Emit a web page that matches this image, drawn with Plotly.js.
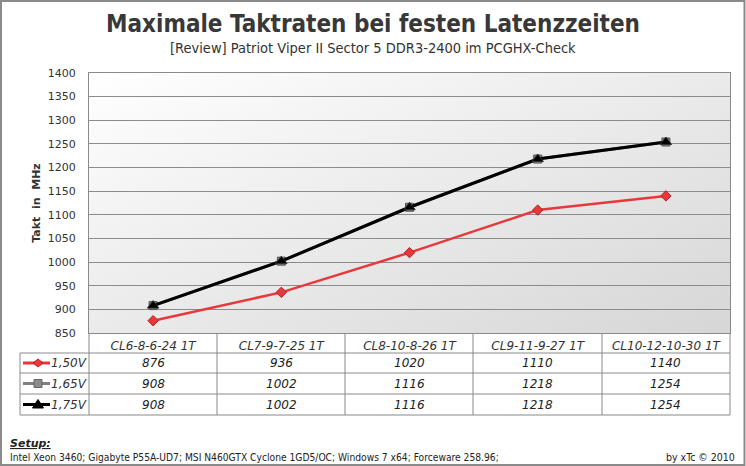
<!DOCTYPE html>
<html>
<head>
<meta charset="utf-8">
<script src="https://cdn.plot.ly/plotly-3.0.1.min.js"></script>
<style>
html,body{margin:0;padding:0;background:#fff;}
#chart{width:746px;height:466px;}
</style>
</head>
<body>
<div id="chart"></div>
<script>
// ---- data ----
const categories = ["CL6-8-6-24 1T", "CL7-9-7-25 1T", "CL8-10-8-26 1T", "CL9-11-9-27 1T", "CL10-12-10-30 1T"];
const seriesNames = ["1,50V", "1,65V", "1,75V"];
const v150 = [876, 936, 1020, 1110, 1140];
const v165 = [908, 1002, 1116, 1218, 1254];
const v175 = [908, 1002, 1116, 1218, 1254];
const yTicks = [850, 900, 950, 1000, 1050, 1100, 1150, 1200, 1250, 1300, 1350, 1400];

// ---- layout helpers (pixel -> paper) ----
const W = 746, H = 466;
const L = 89, R = 730, T = 73, B = 333;
const X = px => (px - L) / (R - L);
const Y = py => (B - py) / (B - T);

const colors = ["#e8383b", "#808080", "#000000"];
const symbols = ["diamond", "square", "triangle-up"];
const values = [v150, v165, v175];

const traces = [
  {x: categories, y: v165, name: seriesNames[1], type: "scatter", mode: "lines+markers",
   line: {color: colors[1], width: 3}, marker: {symbol: symbols[1], size: 8, color: "#888", line: {color: "#555", width: 1}}},
  {x: categories, y: v150, name: seriesNames[0], type: "scatter", mode: "lines+markers",
   line: {color: colors[0], width: 2.5}, marker: {symbol: symbols[0], size: 8, color: "#e8383b", line: {color: "#b02020", width: 1}}},
  {x: categories, y: v175, name: seriesNames[2], type: "scatter", mode: "lines+markers",
   line: {color: colors[2], width: 3}, marker: {symbol: symbols[2], size: 10, color: "#000", line: {color: "#333", width: 1}}}
];

// table geometry
const colEdges = [89, 217, 345, 473, 602, 730];
const rowEdges = [333, 353, 373, 394, 415];
const gridCol = "#8a8a8a";
const shapes = [];
const annotations = [];

// outer frame
shapes.push({type: "rect", xref: "paper", yref: "paper", x0: X(1), x1: X(744.5), y0: Y(1), y1: Y(465), line: {color: "#8a8a8a", width: 2}, layer: "above"});

// table horizontal lines
rowEdges.forEach((ry, i) => {
  if (i === 0) return;
  shapes.push({type: "line", xref: "paper", yref: "paper", x0: X(20), x1: X(R), y0: Y(ry), y1: Y(ry), line: {color: gridCol, width: 1}});
});
// table vertical lines
colEdges.forEach(cx => {
  shapes.push({type: "line", xref: "paper", yref: "paper", x0: X(cx), x1: X(cx), y0: Y(B), y1: Y(rowEdges[4]), line: {color: gridCol, width: 1}});
});
shapes.push({type: "line", xref: "paper", yref: "paper", x0: X(20), x1: X(20), y0: Y(rowEdges[1]), y1: Y(rowEdges[4]), line: {color: gridCol, width: 1}});

// table rows: legend key + values
[0, 1, 2].forEach((s, r) => {
  const cy = (rowEdges[r + 1] + rowEdges[r + 2]) / 2;
  shapes.push({type: "line", xref: "paper", yref: "paper", x0: X(23), x1: X(50), y0: Y(cy), y1: Y(cy), line: {color: colors[s], width: 3}});
  const mx = 38;
  let path;
  if (s === 0) path = `M${X(mx-5)},${Y(cy)} L${X(mx)},${Y(cy-4)} L${X(mx+5)},${Y(cy)} L${X(mx)},${Y(cy+4)} Z`;
  else if (s === 1) path = `M${X(mx-4)},${Y(cy-4)} L${X(mx+4)},${Y(cy-4)} L${X(mx+4)},${Y(cy+4)} L${X(mx-4)},${Y(cy+4)} Z`;
  else path = `M${X(mx-5.5)},${Y(cy+3.5)} L${X(mx)},${Y(cy-5)} L${X(mx+5.5)},${Y(cy+3.5)} Z`;
  shapes.push({type: "path", xref: "paper", yref: "paper", path: path,
    fillcolor: s === 0 ? "#e8383b" : (s === 1 ? "#8c8c8c" : "#000"),
    line: {color: s === 0 ? "#b02020" : (s === 1 ? "#666" : "#000"), width: 1}});
  annotations.push({xref: "paper", yref: "paper", x: X(89), y: Y(cy), xanchor: "right", yanchor: "middle",
    text: "<i>" + seriesNames[s] + "</i>", showarrow: false, font: {family: "DejaVu Sans", size: 12, color: "#333"}});
  values[s].forEach((v, c) => {
    annotations.push({xref: "x", yref: "paper", x: categories[c], y: Y(cy), xanchor: "center", yanchor: "middle",
      text: "<i>" + v + "</i>", showarrow: false, font: {family: "DejaVu Sans", size: 12, color: "#222"}});
  });
});

// titles and footer
annotations.push({xref: "paper", yref: "paper", x: X(373), y: Y(24), xanchor: "center", yanchor: "middle",
  text: "<b>Maximale Taktraten bei festen Latenzzeiten</b>", showarrow: false,
  font: {family: "DejaVu Sans Condensed", size: 24, color: "#383838"}});
annotations.push({xref: "paper", yref: "paper", x: X(373), y: Y(48), xanchor: "center", yanchor: "middle",
  text: "[Review] Patriot Viper II Sector 5 DDR3-2400 im PCGHX-Check", showarrow: false,
  font: {family: "DejaVu Sans Condensed", size: 14.5, color: "#333"}});
annotations.push({xref: "paper", yref: "paper", x: X(8), y: Y(443), xanchor: "left", yanchor: "middle",
  text: "<b><i><u>Setup:</u></i></b>", showarrow: false, font: {family: "DejaVu Sans", size: 11, color: "#222"}});
annotations.push({xref: "paper", yref: "paper", x: X(8), y: Y(457), xanchor: "left", yanchor: "middle",
  text: "Intel Xeon 3460; Gigabyte P55A-UD7; MSI N460GTX Cyclone 1GD5/OC; Windows 7 x64; Forceware 258.96;", showarrow: false,
  font: {family: "DejaVu Sans Condensed", size: 10.2, color: "#222"}});
annotations.push({xref: "paper", yref: "paper", x: X(737), y: Y(457), xanchor: "right", yanchor: "middle",
  text: "by xTc © 2010", showarrow: false, font: {family: "DejaVu Sans Condensed", size: 10.5, color: "#222"}});

// gradient background
const grad = '<svg xmlns="http://www.w3.org/2000/svg" width="100" height="100" preserveAspectRatio="none"><defs><linearGradient id="g" x1="0" y1="0" x2="1" y2="1"><stop offset="0" stop-color="#ffffff"/><stop offset="1" stop-color="#d6d6d6"/></linearGradient></defs><rect width="100" height="100" fill="url(#g)"/></svg>';

const layout = {
  width: W, height: H,
  margin: {l: L, r: W - R, t: T, b: H - B},
  paper_bgcolor: "#ffffff",
  plot_bgcolor: "rgba(0,0,0,0)",
  showlegend: false,
  images: [{source: "data:image/svg+xml;charset=utf-8," + encodeURIComponent(grad), xref: "paper", yref: "paper",
    x: 0, y: 1, sizex: 1, sizey: 1, sizing: "stretch", layer: "below", xanchor: "left", yanchor: "top"}],
  xaxis: {type: "category", range: [-0.5, 4.5], showgrid: false, zeroline: false,
    showline: true, linecolor: "#8a8a8a", linewidth: 1, mirror: true, ticks: "",
    ticklabelstandoff: 2,
    tickfont: {family: "DejaVu Sans", size: 12, color: "#333", style: "italic"}, fixedrange: true},
  yaxis: {range: [850, 1400], tickvals: yTicks, ticktext: yTicks.map(String), showgrid: true, gridcolor: "#8c8c8c", gridwidth: 1,
    zeroline: false, showline: true, linecolor: "#8a8a8a", linewidth: 1, mirror: true, ticks: "",
    ticklabelstandoff: 10,
    tickfont: {family: "DejaVu Sans", size: 11, color: "#333"},
    title: {text: "<b>Takt  in  MHz</b>", standoff: 4, font: {family: "DejaVu Sans", size: 11, color: "#333"}}, fixedrange: true},
  shapes: shapes,
  annotations: annotations
};

Plotly.newPlot("chart", traces, layout, {displayModeBar: false, staticPlot: true});
</script>
</body>
</html>
